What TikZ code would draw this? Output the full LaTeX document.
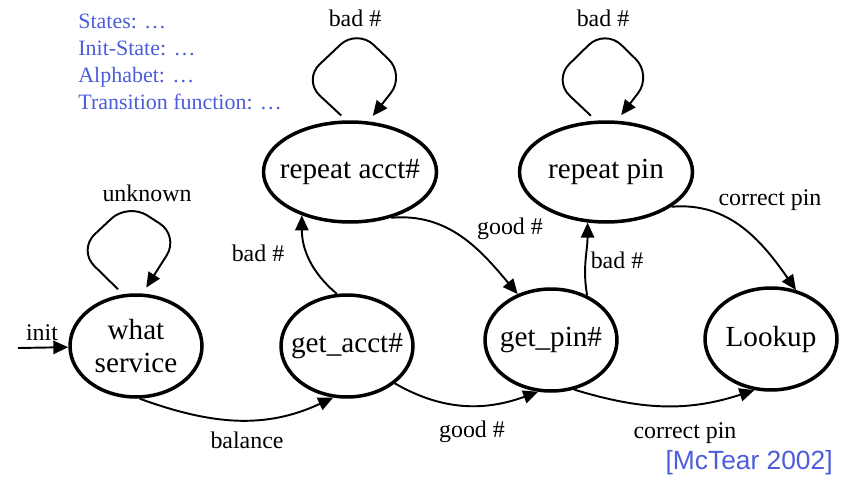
\documentclass[tikz,border=0pt]{standalone}
\usepackage{fontspec}
\setmainfont{Liberation Serif}
\newfontfamily\citefont{Liberation Sans}
\usepackage{tikz}
\usetikzlibrary{arrows.meta,shapes.geometric}
\definecolor{NoteBlue}{HTML}{4C5CDB}
% keeps the state text from widening the ellipse
\newcommand{\nowide}[1]{\makebox[0pt]{#1}}

\begin{document}
\begin{tikzpicture}[
  x=0.02cm,y=-0.02cm,
  state/.style={ellipse,draw,line width=2pt,inner sep=0pt,
    minimum width=2.64cm,minimum height=2.04cm,align=center,
    font=\fontsize{16.6}{19}\selectfont},
  wide/.style={minimum width=3.46cm,minimum height=2cm},
  lbl/.style={font=\fontsize{13.6}{16}\selectfont,inner sep=0pt},
  note/.style={text=NoteBlue,font=\fontsize{12.5}{15.2}\selectfont,align=left,inner sep=0pt},
  cite/.style={text=NoteBlue,font=\citefont\fontsize{15}{18}\selectfont,inner sep=0pt},
  arr/.style={-{Triangle[length=8.5pt,width=7.5pt]},line width=1.1pt},
  loopy/.style={arr,rounded corners=13pt,shorten <=4pt,shorten >=4pt}
]
\useasboundingbox (0,0) rectangle (841,480);

% states
\node[state] (what) at (136,346) {\nowide{what}\\\nowide{service}};
\node[state] (acct) at (347,346) {\nowide{get\_acct\#}};
\node[state,wide] (racct) at (350,172) {\nowide{repeat acct\#}};
\node[state] (pin) at (551,340) {\nowide{get\_pin\#}};
\node[state,wide] (rpin) at (606,172) {\nowide{repeat pin}};
\node[state] (look) at (771,339) {\nowide{Lookup}};
\coordinate (init) at (18,348);

% transitions
\draw[arr] (init) -- (what);
\draw[loopy] (what.104) -- (78,250) -- (128,203) -- (179,236) -- (what.83);
\draw[arr] (what.274) to[out=-20,in=205] (acct.255);
\draw[arr] (acct.101) to[out=140,in=270] (racct.222);
\draw[loopy] (racct.94) -- (303,80) -- (357,29) -- (405,75) -- (racct.70);
\draw[arr] (acct.322) to[out=-30,in=200] (pin.256);
\draw[arr] (racct.312) to[out=5,in=130] (pin.126);
\draw[arr] (pin.51) to[out=100,in=270] (rpin.250);
\draw[loopy] (rpin.101) -- (553,80) -- (605,29) -- (652,75) -- (rpin.78);
\draw[arr] (pin.295) to[out=-17,in=198] (look.252);
\draw[arr] (rpin.332) to[out=5,in=125] (look.63);

% labels
\node[lbl] (linit) at (42,333) {init};
\node[lbl] (lunknown) at (147,193) {unknown};
\node[lbl] (lbal) at (247,440) {balance};
\node[lbl] (lbadacct) at (258,253) {bad \#};
\node[lbl] (lloopacct) at (355,18) {bad \#};
\node[lbl] (lgoodacct) at (510,229) {good \#};
\node[lbl] (lgoodpin) at (472,432) {good \#};
\node[lbl] (lbadpin) at (617,260) {bad \#};
\node[lbl] (llooppin) at (603,18) {bad \#};
\node[lbl] (lcorrtop) at (770,200) {correct pin};
\node[lbl] (lcorrbot) at (685,433) {correct pin};

\node[note,anchor=north west] (defs) at (78,14)
  {States: …\\Init-State: …\\Alphabet: …\\Transition function: …};
\node[cite,anchor=east] (src) at (833,463) {[McTear 2002]};
\end{tikzpicture}
\end{document}
